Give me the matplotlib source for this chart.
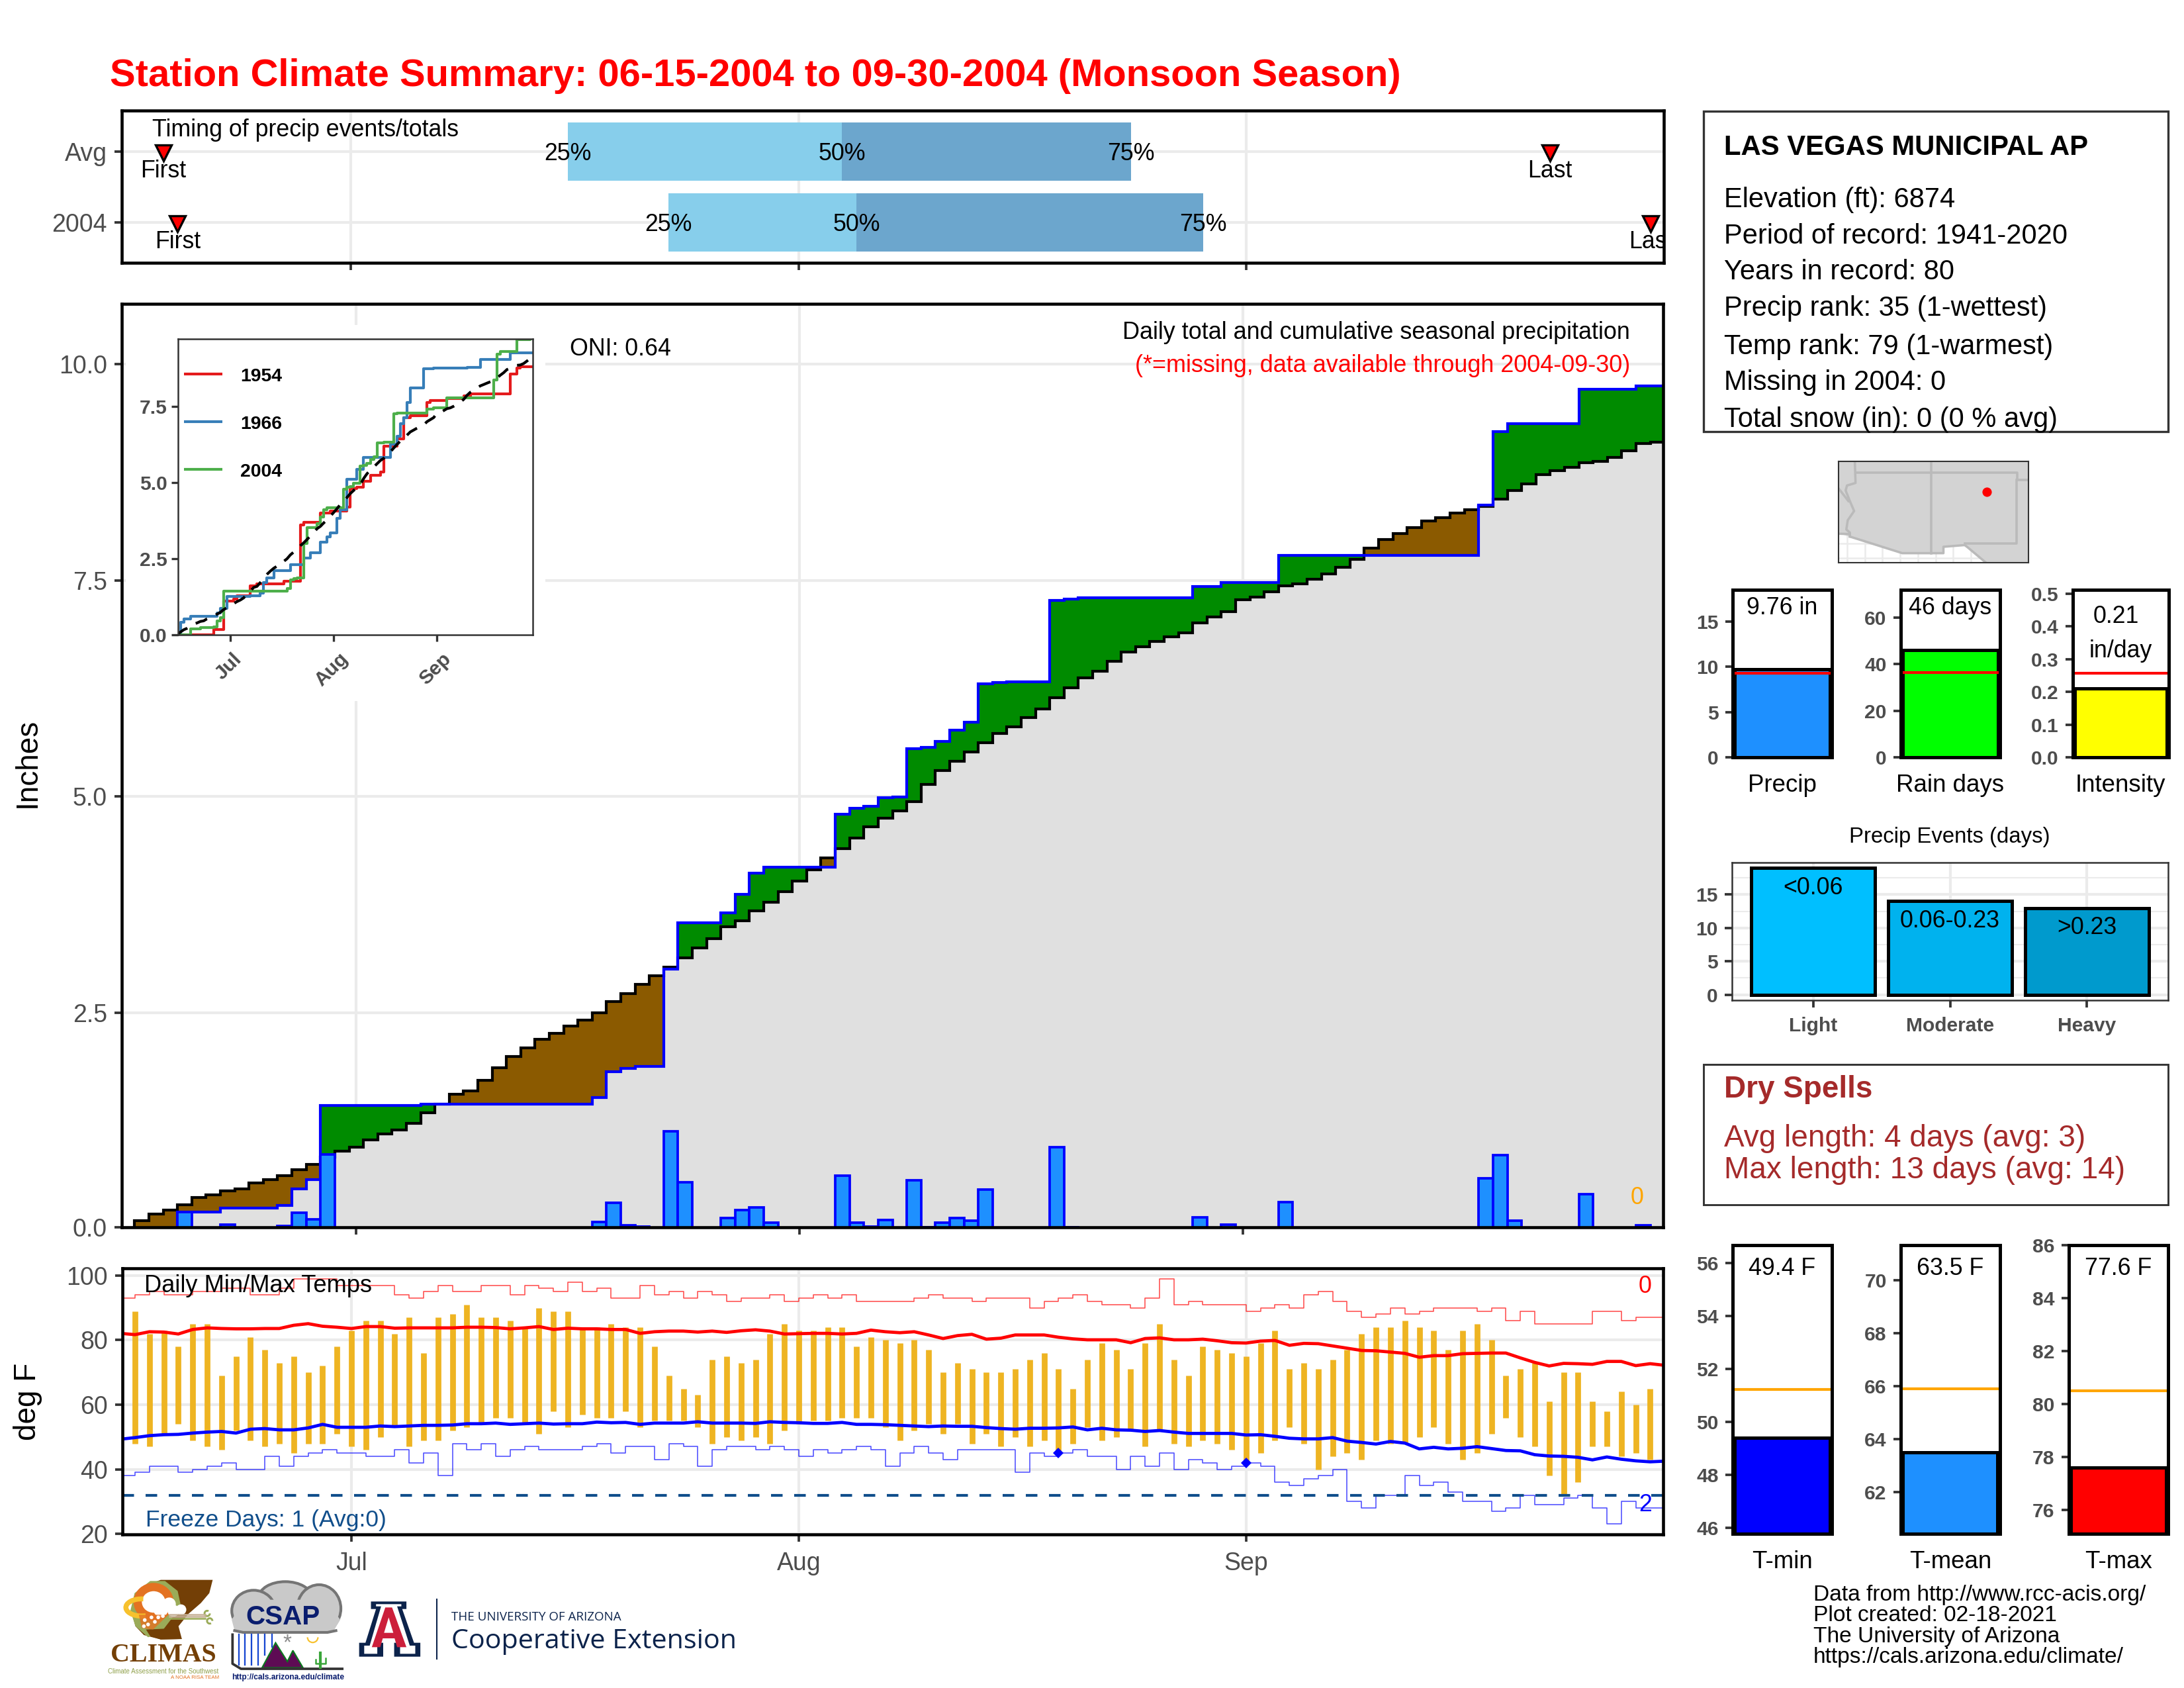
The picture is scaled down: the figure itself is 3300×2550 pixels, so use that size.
import numpy as np
import matplotlib
matplotlib.use("Agg")
import matplotlib.pyplot as plt
from matplotlib.patches import Rectangle, Polygon, Ellipse, Arc, Circle, Wedge
from matplotlib.transforms import ScaledTranslation

plt.rcParams['font.family'] = ['Liberation Sans', 'DejaVu Sans']
plt.rcParams['ytick.alignment'] = 'center_baseline'

W, H, DPI = 3300, 2550, 300

# ---------------------------- DATA ----------------------------
TITLE = "Station Climate Summary: 06-15-2004 to 09-30-2004 (Monsoon Season)"
month_days = [16, 47, 78]
month_names = ["Jul", "Aug", "Sep"]

daily_precip = [0, 0, 0, 0, .19, 0, 0, .05, 0, 0, 0, .03, .187, .11, .86,
                0, 0, 0, 0, 0, 0, .01, 0, 0, 0, 0, 0, 0, 0, 0, 0, 0, 0,
                .077, .30, .042, .022, 0, 1.124, .534, 0, 0, .12, .214, .243, .067,
                0, 0, 0, 0, .616, .068, .02, .10, .01, .56, .015, .072, .125, .09, .45,
                .01, .01, 0, 0, .945, .015, .01, 0, 0, 0, 0, 0, 0, 0, .13, 0, .05,
                0, 0, 0, .31, 0, 0, 0, 0, 0, 0, 0, 0, 0, 0, 0, 0, 0,
                .585, .852, .09, 0, 0, 0, 0, .40, 0, 0, 0, .04, 0]

avg_cum_precip = [0, .09, .166, .214, .278, .36, .39, .44, .46, .526, .567, .613, .68, .74, .83,
                  .894, .945, 1.027, 1.093, 1.144, 1.215, 1.343, 1.44, 1.558, 1.593, 1.72, 1.864,
                  1.99, 2.094, 2.188, 2.257, 2.347, 2.413, 2.5, 2.628, 2.72, 2.83, 2.93, 3.024,
                  3.134, 3.25, 3.356, 3.49, 3.565, 3.678, 3.779, 3.90, 4.023, 4.148, 4.286, 4.398,
                  4.518, 4.646, 4.748, 4.837, 4.94, 5.14, 5.297, 5.407, 5.517, 5.624, 5.731, 5.803,
                  5.913, 6.012, 6.14, 6.258, 6.37, 6.447, 6.564, 6.672, 6.733, 6.795, 6.85, 6.896,
                  7.009, 7.075, 7.142, 7.28, 7.31, 7.372, 7.438, 7.463, 7.515, 7.579, 7.65, 7.74,
                  7.873, 7.975, 8.046, 8.115, 8.186, 8.23, 8.276, 8.32, 8.358, 8.44, 8.537, 8.618,
                  8.723, 8.767, 8.812, 8.861, 8.874, 8.92, 9.002, 9.086, 9.098]

yr1954_days = [0, 11, 14, 17, 18, 22, 24, 32, 37, 38, 43, 46, 51, 52, 54, 56, 58, 61, 62, 66, 68, 70,
               75, 76, 81, 86, 88, 100, 102, 103, 107]
yr1954_vals = [0, .17, 1.10, 1.18, 1.29, 1.60, 1.68, 1.77, 3.62, 3.71, 4.0, 4.08, 4.2, 4.82, 4.86,
               5.05, 5.25, 5.36, 6.2, 6.45, 7.15, 7.2, 7.63, 7.70, 7.77, 7.85, 7.92, 8.58, 8.78, 8.81, 8.81]
yr1966_days = [0, 1, 2, 4, 12, 13, 15, 22, 25, 26, 27, 29, 34, 38, 40, 43, 45, 46, 48, 49, 51, 54, 56,
               64, 66, 67, 68, 69, 70, 74, 77, 87, 91, 100, 107]
yr1966_vals = [0, .42, .52, .62, .71, .87, 1.26, 1.29, 1.37, 1.72, 1.88, 2.11, 2.30, 2.53, 2.71, 3.04,
               3.23, 3.35, 3.83, 4.11, 5.12, 5.44, 5.83, 6.26, 6.53, 6.95, 7.15, 7.65, 8.12, 8.74, 8.77,
               8.79, 9.05, 9.28, 9.28]

tmax_daily = [89, 82, 83, 78, 85, 85, 69, 75, 81, 77, 73, 75, 70, 72, 78, 83, 86, 86, 82, 87, 76, 87, 88, 91,
              87, 87, 86, 84, 90, 89, 89, 84, 84, 85, 84, 84, 78, 69, 65, 63, 74, 75, 73, 74, 82, 85, 83, 83,
              84, 84, 78, 81, 80, 79, 80, 77, 70, 73, 71, 70, 70, 71, 74, 76, 71, 65, 74, 79, 77, 71, 79, 85,
              74, 69, 78, 77, 76, 75, 79, 83, 71, 73, 71, 74, 77, 82, 84, 84, 86, 84, 83, 77, 83, 85, 80, 69,
              71, 73, 61, 70, 70, 61, 58, 64, 60, 65]
tmin_daily = [48, 47, 51, 54, 49, 47, 46, 52, 49, 47, 48, 45, 48, 48, 51, 47, 46, 50, 53, 47, 49, 49, 52, 53,
              54, 56, 56, 54, 51, 58, 53, 57, 56, 56, 58, 53, 55, 55, 55, 53, 48, 50, 49, 50, 48, 52, 54, 55,
              55, 56, 56, 56, 53, 49, 52, 54, 51, 54, 48, 51, 47, 50, 47, 49, 45, 48, 53, 49, 50, 52, 47, 52,
              48, 47, 49, 48, 46, 42, 45, 49, 53, 48, 40, 44, 45, 43, 49, 48, 48, 50, 53, 48, 43, 45, 51, 56,
              50, 47, 38, 32, 36, 47, 47, 44, 45, 43]
avg_tmax = [82.1, 81.7, 82.6, 82.5, 81.9, 83.3, 83.8, 83.6, 83.5, 83.5, 83.6, 83.6, 84.6, 85.1, 84.3, 84.0,
            83.6, 84.2, 84.2, 83.7, 83.8, 83.8, 83.8, 83.8, 84.0, 84.0, 83.9, 83.5, 83.8, 84.2, 83.3, 83.7,
            83.5, 83.5, 83.3, 83.3, 82.1, 82.6, 82.8, 82.8, 82.5, 82.8, 82.4, 82.9, 83.2, 82.8, 81.9, 82.0,
            82.1, 82.1, 81.9, 82.1, 83.1, 82.6, 82.3, 82.6, 81.6, 80.5, 81.4, 81.8, 80.3, 80.6, 81.6, 81.6,
            81.6, 80.9, 80.4, 80.1, 80.1, 80.1, 79.2, 80.5, 80.7, 80.1, 80.1, 80.3, 79.8, 79.2, 79.1, 79.7,
            79.9, 78.4, 79.0, 78.9, 78.2, 77.5, 76.8, 76.7, 76.3, 75.9, 74.7, 75.2, 75.2, 75.8, 75.9, 76.0,
            76.0, 74.5, 73.1, 72.0, 72.8, 72.7, 72.5, 73.4, 73.4, 72.1, 72.7, 72.2]
avg_tmin = [49.3, 49.8, 50.4, 50.7, 50.8, 51.2, 51.5, 51.7, 51.2, 52.4, 52.6, 52.2, 52.2, 52.8, 53.9, 53.0,
            53.0, 53.0, 53.4, 53.2, 53.4, 53.6, 53.6, 53.7, 54.1, 54.1, 54.3, 53.9, 54.1, 54.3, 54.0, 54.1,
            54.1, 54.6, 54.4, 54.5, 53.9, 54.3, 54.3, 54.3, 54.7, 54.3, 54.3, 54.3, 54.2, 54.7, 54.5, 54.4,
            54.2, 54.2, 54.5, 53.9, 53.9, 53.8, 53.6, 53.4, 53.2, 53.4, 53.3, 53.3, 52.9, 52.6, 52.4, 52.7,
            52.7, 52.8, 53.1, 52.2, 52.7, 52.2, 52.1, 51.7, 52.0, 51.5, 51.1, 51.1, 51.1, 51.1, 50.6, 50.7,
            50.2, 49.6, 49.4, 49.4, 49.8, 48.7, 48.3, 47.8, 48.6, 48.1, 46.3, 46.8, 46.3, 46.5, 47.0, 46.4,
            45.8, 45.7, 44.5, 44.1, 44.0, 43.7, 42.9, 43.8, 43.1, 42.6, 42.3, 42.5]
rec_high = [93, 94, 95, 94, 94, 95, 95, 96, 96, 94, 94, 96, 99, 99, 99, 97, 97, 97, 97, 94, 93, 95, 97, 95, 95,
            97, 97, 94, 97, 96, 95, 98, 95, 96, 93, 93, 97, 94, 95, 93, 95, 94, 92, 93, 93, 94, 92, 93, 94, 93,
            94, 92, 92, 92, 92, 93, 94, 93, 93, 92, 93, 93, 93, 90, 92, 93, 94, 92, 91, 91, 90, 93, 99, 91, 92,
            91, 91, 91, 89, 90, 91, 90, 94, 95, 92, 89, 87, 88, 90, 88, 89, 90, 90, 90, 89, 90, 86, 89, 85, 85,
            85, 85, 89, 89, 86, 87, 87, 87]
rec_low = [38, 39, 41, 41, 39, 40, 41, 42, 40, 40, 44, 41, 44, 45, 46, 45, 45, 44, 44, 46, 42, 45, 38, 48, 46,
           48, 44, 46, 47, 46, 46, 46, 47, 48, 45, 47, 47, 43, 48, 47, 41, 46, 47, 47, 46, 47, 46, 44, 46, 45,
           46, 47, 46, 41, 45, 47, 45, 43, 46, 46, 46, 46, 39, 45, 44, 45, 46, 44, 44, 40, 44, 41, 45, 40, 43,
           42, 40, 41, 42, 41, 36, 35, 37, 38, 40, 30, 28, 32, 32, 38, 35, 36, 33, 30, 30, 27, 28, 32, 29, 29,
           31, 32, 28, 23, 30, 28, 28, 28]
low_tie_days = [65, 78]
low_tie_vals = [45, 42]

timing_cats = ["Avg", "2004"]
timing_first = [3, 4]
timing_last = [99, 106]
timing_q25 = [31, 38]
timing_q50 = [50, 51]
timing_q75 = [70, 75]

info_title = "LAS VEGAS MUNICIPAL AP"
info_lines = ["Elevation (ft): 6874", "Period of record: 1941-2020", "Years in record: 80",
              "Precip rank: 35 (1-wettest)", "Temp rank: 79 (1-warmest)", "Missing in 2004: 0",
              "Total snow (in): 0 (0 % avg)"]

precip_total, precip_avg = 9.76, 9.3
raindays_total, raindays_avg = 46, 36.3
intensity_val, intensity_avg = 0.21, 0.257
event_names = ["Light", "Moderate", "Heavy"]
event_counts = [19, 14, 13]
event_labels = ["<0.06", "0.06-0.23", ">0.23"]
event_colors = ["#00BFFF", "#00B2EE", "#009ACD"]
tbar_names = ["T-min", "T-mean", "T-max"]
tbar_vals = [49.4, 63.5, 77.6]
tbar_avgs = [51.22, 65.9, 80.5]
tbar_colors = ["#0000FF", "#1E90FF", "#FF0000"]
footer = ["Data from http://www.rcc-acis.org/", "Plot created: 02-18-2021",
          "The University of Arizona", "https://cals.arizona.edu/climate/"]

# --------------------------- HELPERS ---------------------------
GREY30, GREY20, GRID = "#4D4D4D", "#333333", "#EBEBEB"
TXT = 8.6
days = np.arange(len(avg_cum_precip))
cum2004 = np.cumsum(daily_precip)
avg_cum = np.array(avg_cum_precip)

fig = plt.figure(figsize=(W / DPI, H / DPI), dpi=DPI, facecolor="white")


def axpx(l, t, r, b, **kw):
    return fig.add_axes([l / W, 1 - b / H, (r - l) / W, (b - t) / H], **kw)


def style(ax, lw=1.1, edge="black", tick=9.0, bold=False, pad=2.6):
    for s in ax.spines.values():
        s.set_linewidth(lw)
        s.set_edgecolor(edge)
        s.set_zorder(10)
    ax.tick_params(length=2.7, width=0.9, color=GREY20, labelcolor=GREY30, labelsize=tick, pad=pad)
    ax.tick_params(axis="x", pad=pad + 0.9)
    if bold:
        for t in ax.get_xticklabels() + ax.get_yticklabels():
            t.set_fontweight("bold")
    ax.set_axisbelow(True)


def grid(ax, axis="both", lw=1.0):
    ax.grid(True, axis=axis, color=GRID, lw=lw, zorder=0)


T_XLIM = (0.13, 106.9)

# ------------------------ overlay (text) ------------------------
bg = axpx(0, 0, W, H)
bg.set_xlim(0, W)
bg.set_ylim(H, 0)
bg.axis("off")
bg.set_zorder(20)
bg.patch.set_alpha(0)


def T(x, y, s, **kw):
    kw.setdefault("va", "center")
    return bg.text(x, y + 3.5, s, **kw)


bg.text(166, 130, TITLE, color="#FF0000", fontsize=13.9, fontweight="bold", va="baseline")

# ------------------------ timing panel ------------------------
ax = axpx(184, 167, 2514, 397)
ax.set_xlim(*T_XLIM)
ax.set_ylim(0.43, 2.58)
cat_y = [2, 1]
ax.barh(cat_y, np.array(timing_q50) - np.array(timing_q25), left=timing_q25, height=0.83, color="#87CEEB", zorder=3)
ax.barh(cat_y, np.array(timing_q75) - np.array(timing_q50), left=timing_q50, height=0.83, color="#6CA6CD", zorder=3)
ax.plot(timing_first, np.array(cat_y) - 0.02, ls="", marker="v", ms=5.8, mfc="#FF0000", mec="black", mew=0.8, zorder=4)
ax.plot(timing_last, np.array(cat_y) - 0.02, ls="", marker="v", ms=5.8, mfc="#FF0000", mec="black", mew=0.8, zorder=4)
for y, f, l, q1, q2, q3 in zip(cat_y, timing_first, timing_last, timing_q25, timing_q50, timing_q75):
    ax.text(f, y - 0.275, "First", ha="center", va="center", fontsize=TXT, clip_on=True, zorder=5)
    ax.text(l, y - 0.275, "Last", ha="center", va="center", fontsize=TXT, clip_on=True, zorder=5)
    for q, s in ((q1, "25%"), (q2, "50%"), (q3, "75%")):
        ax.text(q, y - 0.03, s, ha="center", va="center", fontsize=TXT, zorder=5)
ax.set_yticks(cat_y, timing_cats)
ax.set_xticks(month_days, [""] * 3)
grid(ax)
style(ax)
T(230, 193, "Timing of precip events/totals", fontsize=TXT)

# ------------------------ main precip panel ------------------------
ax = axpx(184, 459, 2513, 1854)
ax.set_xlim(-0.4, 107.4)
ax.set_ylim(0.016, 10.70)
xs = np.r_[days, 107.6]
obs = np.r_[cum2004, cum2004[-1]]
avg = np.r_[avg_cum, avg_cum[-1]]
low = np.minimum(obs, avg)
ax.fill_between(xs, 0, low, step="mid", color="#E0E0E0", lw=0, zorder=2)
ax.fill_between(xs, low, obs, step="mid", color="#008B00", lw=0, zorder=2)
ax.fill_between(xs, low, avg, step="mid", color="#8B5A00", lw=0, zorder=2)
ax.step(xs, avg, where="mid", color="black", lw=1.0, zorder=3, solid_joinstyle="miter")
ax.step(xs, obs, where="mid", color="#0000FF", lw=1.0, zorder=4, solid_joinstyle="miter")
pr = np.array(daily_precip)
mask = pr > 0
ax.bar(days[mask], pr[mask], width=1.0, color="#1E90FF", edgecolor="#0000FF", lw=0.9, zorder=5)
ax.set_yticks([0.016, 2.5, 5, 7.5, 10], ["0.0", "2.5", "5.0", "7.5", "10.0"])
ax.set_xticks(month_days, [""] * 3)
grid(ax)
style(ax)
T(2463, 499, "Daily total and cumulative seasonal precipitation", fontsize=8.65, ha="right")
T(2463, 549, "(*=missing, data available through 2004-09-30)", fontsize=8.65, ha="right", color="#FF0000")
T(861, 524, "ONI: 0.64", fontsize=TXT)
T(2474, 1806, "0", fontsize=TXT, ha="center", color="#FFA500")
bg.text(42, 1152, "Inches", fontsize=11, rotation=90, ha="center", va="center")

# white viewport behind the inset
cover = axpx(190, 491, 824, 1059)
cover.set_xticks([])
cover.set_yticks([])
for s in cover.spines.values():
    s.set_visible(False)
cover.set_facecolor("white")
cover.set_zorder(5)

ins = axpx(269, 512, 805, 959)
ins.set_zorder(6)
ins.set_xlim(0.3, 106.75)
ins.set_ylim(0, 9.73)
ins.step(yr1954_days, yr1954_vals, where="post", color="#E41A1C", lw=1.0, label="1954")
ins.step(yr1966_days, yr1966_vals, where="post", color="#377EB8", lw=1.0, label="1966")
ins.step(days, cum2004, where="post", color="#4DAF4A", lw=1.0, label="2004")
ins.plot(days, avg_cum, color="black", lw=1.0, ls=(0, (4.5, 3.5)))
ins.set_yticks([0, 2.5, 5, 7.5], ["0.0", "2.5", "5.0", "7.5"])
ins.set_xticks(month_days, month_names)
style(ins, lw=0.6, edge=GREY20, tick=7.2, bold=True)
ins.tick_params(length=2.4, width=0.8)
ins.tick_params(axis="y", pad=1.5)
ins.tick_params(axis="x", pad=3.0)
shift = ScaledTranslation(-3 / DPI, 0, fig.dpi_scale_trans)
for t in ins.get_xticklabels():
    t.set_rotation(45)
    t.set_ha("center")
    t.set_transform(t.get_transform() + shift)
for (name, col, ypx) in (("1954", "#E41A1C", 565), ("1966", "#377EB8", 637), ("2004", "#4DAF4A", 709)):
    bg.plot([278, 336], [ypx, ypx], color=col, lw=1.0, solid_capstyle="butt")
    T(363, ypx, name, fontsize=6.8, fontweight="bold")

# ------------------------ temperature panel ------------------------
ax = axpx(185, 1916, 2513, 2318)
ax.set_xlim(*T_XLIM)
ax.set_ylim(19.8, 102.25)
bar_days = days[1:107]
ax.vlines(bar_days, tmin_daily, tmax_daily, color="#EEB422", lw=2.1, zorder=2)
ax.step(days, rec_high, where="post", color="#FF0000", lw=0.38, alpha=0.7, zorder=3)
ax.step(days, rec_low, where="post", color="#0000FF", lw=0.38, alpha=0.7, zorder=3)
ax.plot(days, avg_tmax, color="#FF0000", lw=1.15, zorder=4)
ax.plot(days, avg_tmin, color="#0000FF", lw=1.15, zorder=4)
ax.axhline(32, color="#104E8B", lw=1.0, ls=(0, (4.2, 4.2)), zorder=4)
ax.plot(low_tie_days, low_tie_vals, ls="", marker="D", ms=2.6, color="#0000FF", mew=0, zorder=5)
ax.set_yticks([20, 40, 60, 80, 100])
ax.set_xticks(month_days, month_names)
grid(ax)
style(ax)
T(218, 1939, "Daily Min/Max Temps", fontsize=8.7)
T(220, 2293, "Freeze Days: 1 (Avg:0)", fontsize=8.5, color="#104E8B")
T(2486, 1940, "0", fontsize=TXT, ha="center", color="#FF0000")
T(2486, 2270, "2", fontsize=TXT, ha="center", color="#0000FF")
bg.text(42, 2117, "deg F", fontsize=11, rotation=90, ha="center", va="center")

# ------------------------ info box ------------------------
bg.add_patch(Rectangle((2574, 168), 702, 484, fc="white", ec=GREY20, lw=0.8, zorder=1))
T(2605, 220, info_title, fontsize=10.05, fontweight="bold", zorder=3)
for ypx, line in zip([298, 353, 408, 463, 520, 575, 630], info_lines):
    T(2605, ypx, line, fontsize=10, zorder=3)

# ------------------------ locator map ------------------------
m = axpx(2778, 697, 3065, 850)
m.set_xlim(-115.6, -102.2)
m.set_ylim(30.66, 37.8)
for lat in (31.0, 32.0):
    m.axhline(lat, color=GRID, lw=0.6, zorder=0)
for lon in (-115.0, -113.75, -112.5, -111.25, -110.0, -108.75, -107.5, -106.25):
    m.axvline(lon, color=GRID, lw=0.6, zorder=0)
land_lon = [-115.6, -102.2, -102.2, -105.2, -106.5, -106.7, -108.2, -108.2, -111.1, -114.8, -115.55, -115.6]
land_lat = [37.8, 37.8, 30.66, 30.66, 31.75, 31.9, 31.78, 31.33, 31.33, 32.5, 32.7, 32.7]
m.fill(land_lon, land_lat, color="#D3D3D3", lw=0, zorder=1)
bc = "#BABABA"
BLW = 0.85
m.plot([-114.45, -114.4, -115.0, -115.1, -114.8, -114.5, -114.95, -115.05, -114.8, -114.8],
       [37.8, 36.28, 36.1, 35.75, 35.0, 34.3, 33.65, 33.0, 32.78, 32.5], color=bc, lw=BLW, zorder=2)
m.plot([-115.6, -114.9], [35.9, 35.0], color=bc, lw=BLW, zorder=2)
m.plot([-115.6, -114.8], [32.7, 32.68], color=bc, lw=BLW, zorder=2)
m.plot([-109.05, -109.05], [37.8, 31.33], color=bc, lw=BLW, zorder=2)
m.plot([-114.4, -103.0, -103.0, -102.2], [37.0, 37.0, 36.5, 36.5], color=bc, lw=BLW, zorder=2)
m.plot([-103.05, -103.05, -106.7], [36.5, 32.0, 32.0], color=bc, lw=BLW, zorder=2)
m.plot(land_lon[3:10], land_lat[3:10], color=bc, lw=BLW, zorder=2)
m.plot([-105.15], [35.64], ls="", marker="o", ms=3.4, color="#FF0000", mew=0, zorder=3)
m.set_xticks([])
m.set_yticks([])
for s in m.spines.values():
    s.set_linewidth(0.5)
    s.set_edgecolor(GREY20)


# ------------------------ small bar charts ------------------------
def small(l, t, r, b, val, ref, color, ylim, yticks, ylabels, refcol, name, label_x):
    a = axpx(l, t, r, b)
    a.bar([1], [val], width=0.9, color=color, edgecolor="black", lw=1.2, zorder=2)
    a.axhline(ref, color=refcol, lw=1.0, zorder=3)
    a.set_xlim(0.53, 1.47)
    a.set_ylim(*ylim)
    a.set_xticks([])
    a.set_yticks(yticks, ylabels)
    style(a, lw=1.2, tick=7.2, bold=True, pad=2.4)
    T(label_x, b + 39, name, fontsize=8.8, ha="center")
    return a


small(2618, 891, 2768, 1144, precip_total, precip_avg, "#1E90FF", (0, 18.5), [0, 5, 10, 15], ["0", "5", "10", "15"], "#FF0000", "Precip", 2693)
small(2872, 891, 3022, 1144, raindays_total, raindays_avg, "#00FF00", (0, 72), [0, 20, 40, 60], ["0", "20", "40", "60"], "#FF0000", "Rain days", 2947)
small(3132, 891, 3277, 1144, intensity_val, intensity_avg, "#FFFF00", (0, 0.512), [0, .1, .2, .3, .4, .5], ["0.0", "0.1", "0.2", "0.3", "0.4", "0.5"], "#FF0000", "Intensity", 3204)
T(2693, 915, "9.76 in", fontsize=TXT, ha="center")
T(2947, 915, "46 days", fontsize=TXT, ha="center")
T(3197, 928, "0.21", fontsize=TXT, ha="center")
T(3204, 980, "in/day", fontsize=TXT, ha="center")

# precip events
a = axpx(2617, 1303, 3276, 1511)
a.bar([1, 2, 3], event_counts, width=0.905, color=event_colors, edgecolor="black", lw=1.2, zorder=3)
a.set_xlim(0.406, 3.594)
a.set_ylim(-0.83, 19.8)
a.set_yticks([0, 5, 10, 15], ["0", "5", "10", "15"])
a.set_yticks([2.5, 7.5, 12.5, 17.5], minor=True)
a.set_xticks([1, 2, 3], event_names)
a.grid(True, which="major", color=GRID, lw=1.0, zorder=0)
a.grid(True, which="minor", axis="y", color=GRID, lw=0.5, zorder=0)
style(a, lw=0.6, edge=GREY20, tick=7.2, bold=True, pad=2.4)
a.tick_params(which="minor", length=0)
for x, c, s in zip([1, 2, 3], event_counts, event_labels):
    a.text(x, c - 3.0, s, fontsize=TXT, ha="center", va="center", zorder=5)
T(2946, 1261, "Precip Events (days)", fontsize=7.9, ha="center")

# dry spells
bg.add_patch(Rectangle((2574, 1608), 702, 212, fc="white", ec=GREY20, lw=0.7, zorder=1))
T(2605, 1642, "Dry Spells", fontsize=11, fontweight="bold", color="#A52A2A", zorder=3)
T(2605, 1716, "Avg length: 4 days (avg: 3)", fontsize=11.05, color="#A52A2A", zorder=3)
T(2605, 1765, "Max length: 13 days (avg: 14)", fontsize=11.05, color="#A52A2A", zorder=3)

# temperature bars
tb = [(2618, 2768, (45.78, 56.67), [46, 48, 50, 52, 54, 56]),
      (2872, 3021.5, (60.44, 71.32), [62, 64, 66, 68, 70]),
      (3126, 3276, (75.09, 86.0), [76, 78, 80, 82, 84, 86])]
for (l, r, yl, yt), v, ref, c, nm in zip(tb, tbar_vals, tbar_avgs, tbar_colors, tbar_names):
    a = small(l, 1881, r, 2317, v, ref, c, yl, yt, [str(q) for q in yt], "#FFA500", nm, (l + r) / 2)
    T((l + r) / 2, 1913, "%.1f F" % v, fontsize=TXT, ha="center")

for ypx, line in zip([2406, 2437, 2469, 2500], footer):
    T(2740, ypx, line, fontsize=8.05)


# ------------------------ logos ------------------------
def P(pts):
    return [(160 + X / 1.568, 2360 + Y / 3) for X, Y in pts]


brown = "#733F06"
olive = "#9AAB58"
orange = "#E37222"
bg.add_patch(Polygon(P([(130, 80), (253, 80), (245, 140), (225, 185), (195, 235), (172, 290), (180, 348), (130, 350),
                        (90, 330), (70, 290), (60, 220), (70, 150), (100, 100)]), fc=brown, ec="none"))
bg.add_patch(Polygon(P([(105, 85), (140, 85), (170, 130), (178, 200), (150, 270), (130, 320), (100, 340), (70, 290),
                        (58, 220), (68, 140)]), fc=olive, ec="none"))
bg.add_patch(Polygon(P([(95, 305), (155, 300), (180, 348), (130, 350), (105, 335)]), fc=brown, ec="none"))
bg.add_patch(Ellipse(P([(113, 180)])[0], 48, 45, fc="white", ec=orange, lw=3.0))
for X, Y, r in ((150, 190, 10), (178, 215, 8), (130, 215, 11), (160, 220, 9)):
    bg.add_patch(Circle(P([(X, Y)])[0], r, fc="white", ec="none"))
bg.add_patch(Arc(P([(85, 205)])[0], 48, 26, theta1=65, theta2=280, color="#F7C12D", lw=1.8))
bg.add_patch(Polygon(P([(78, 238), (148, 238), (112, 305), (85, 298)]), fc=orange, ec="none", alpha=0.8))
for X, Y in ((92, 262), (108, 250), (124, 250), (100, 282), (116, 270), (90, 290), (135, 244)):
    bg.add_patch(Circle(P([(X, Y)])[0], 2.8, fc="white", ec="none"))
for Y, col in ((238, "#C7B299"), (247, "#C7B299"), (256, olive)):
    bg.plot(*zip(*P([(150, Y), (235, Y)])), color=col, lw=0.6)
bg.add_patch(Arc(P([(240, 232)])[0], 8, 8, theta1=0, theta2=300, color=olive, lw=0.7))
bg.add_patch(Arc(P([(246, 266)])[0], 8, 8, theta1=60, theta2=360, color=olive, lw=0.7))
bg.text(247, 2501, "CLIMAS", family="Liberation Serif", fontsize=9.6, fontweight="bold", color=brown, ha="center", va="center")
bg.text(247, 2525, "Climate Assessment for the Southwest", fontsize=2.35, color="#8FA04A", ha="center", va="center")
bg.text(295, 2534, "A NOAA RISA TEAM", fontsize=1.9, color=orange, ha="center", va="center")

# CSAP
bg.add_patch(Ellipse(P([(425, 160)])[0], 80, 48, fc="#C9C9C9", ec="#757575", lw=1.0, zorder=1))
bg.add_patch(Ellipse(P([(350, 220)])[0], 66, 62, fc="#C9C9C9", ec="#757575", lw=1.0, zorder=1))
bg.add_patch(Ellipse(P([(505, 210)])[0], 66, 72, fc="#C9C9C9", ec="#757575", lw=1.0, zorder=1))
bg.add_patch(Polygon(P([(298, 260), (330, 170), (520, 170), (555, 260), (540, 310), (525, 318), (325, 318), (305, 310)]),
                     fc="#C9C9C9", ec="none", zorder=1))
bg.plot(*zip(*P([(305, 310), (325, 318), (525, 318), (545, 310)])), color="#757575", lw=1.0, zorder=1)
T(160 + 420 / 1.568, 2360 + 240 / 3, "CSAP", fontsize=9.7, fontweight="bold", color="#0A1D6E", ha="center", zorder=2)
bg.plot(*zip(*P([(300, 328), (300, 460), (320, 483), (560, 483)])), color="#333333", lw=0.9)
for X, Y1 in ((315, 465), (330, 465), (345, 465), (360, 465), (377, 420), (393, 385)):
    bg.plot(*zip(*P([(X, 328), (X, Y1)])), color="#1747D1", lw=0.55)
bg.add_patch(Polygon(P([(370, 478), (402, 365), (430, 450), (443, 400), (467, 478)]), fc="#5E0B54", ec="#0A7A1E", lw=0.5))
T(160 + 430 / 1.568, 2360 + 358 / 3, "*", fontsize=8, color="#8A8A8A", ha="center")
bg.add_patch(Wedge(P([(490, 340)])[0], 9, 0, 180, width=2.2, fc="#F7C12D", ec="none"))
bg.plot(*zip(*P([(508, 410), (508, 478)])), color="#3AA53A", lw=1.0)
bg.plot(*zip(*P([(497, 440), (497, 458), (520, 458), (520, 435)])), color="#3AA53A", lw=0.6)
T(160 + 432 / 1.568, 2360 + 513 / 3, "http://cals.arizona.edu/climate", fontsize=2.85, fontweight="bold", color="#0A1D6E", ha="center")

# UA
navy = "#0C234B"
bg.add_patch(Polygon(P([(628, 178), (712, 178), (712, 212), (702, 212), (730, 365), (745, 365), (745, 428), (683, 428),
                        (683, 365), (692, 365), (688, 340), (652, 340), (648, 365), (657, 365), (657, 428), (600, 428),
                        (600, 365), (615, 365), (640, 212), (628, 212)]), fc=navy, ec="none"))
bg.add_patch(Polygon(P([(640, 190), (700, 190), (700, 200), (690, 200), (720, 378), (733, 378), (733, 415), (697, 415),
                        (697, 378), (706, 378), (698, 330), (642, 330), (634, 378), (643, 378), (643, 415), (612, 415),
                        (612, 378), (625, 378), (652, 200), (640, 200)]), fc="white", ec="none"))
bg.add_patch(Polygon(P([(662, 205), (678, 205), (712, 385), (690, 385), (684, 345), (656, 345), (650, 385), (630, 385)]),
                     fc="#CC1F3B", ec="none"))
bg.add_patch(Polygon(P([(670, 250), (659, 320), (681, 320)]), fc="white", ec="none"))
bg.plot(*zip(*P([(784, 168), (784, 438)])), color=navy, lw=0.5)
T(160 + 818 / 1.568, 2360 + 240 / 3, "THE UNIVERSITY OF ARIZONA", family="Open Sans", fontsize=4.5, color=navy)
T(160 + 818 / 1.568, 2360 + 348 / 3, "Cooperative Extension", family="Open Sans", fontsize=9.9, color=navy)

fig.savefig("out.png", dpi=DPI, facecolor="white")
